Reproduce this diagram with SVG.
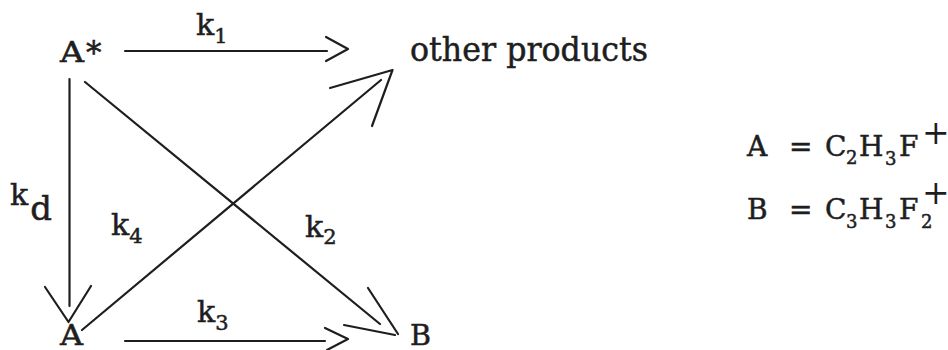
<svg xmlns="http://www.w3.org/2000/svg" width="948" height="350" viewBox="0 0 948 350">
<style>
  .bg{fill:#ffffff}
  .ln{fill:none;stroke:#1e1e1e;stroke-width:2.2;stroke-linecap:round;stroke-linejoin:round}
  .tx{font-family:"DejaVu Serif","Liberation Serif",serif;fill:#1e1e1e;stroke:#1e1e1e;stroke-width:0.5}
  .big{font-size:34px}
  .node{font-size:27px}
  .k{font-size:30px}
  .sub{font-size:21px}
  .eq{font-size:28px}
  .esub{font-size:18px}
  .plus{font-size:33px;stroke-width:0}
</style>
<rect class="bg" x="0" y="0" width="948" height="350"/>

<g id="connectors">
  <!-- k1: A* -> other products -->
  <g id="edge-k1">
    <line class="ln" x1="125" y1="51" x2="327" y2="51"/>
    <polyline class="ln" points="326,37 348,49 326,61"/>
    <text class="tx k" x="196" y="35">k<tspan class="sub" dy="8">1</tspan></text>
  </g>
  <!-- kd: A* -> A -->
  <g id="edge-kd">
    <line class="ln" x1="69.5" y1="79" x2="69.5" y2="306"/>
    <polyline class="ln" points="45,287 68.5,322 91,286"/>
    <text class="tx k" x="10" y="205">k<tspan class="big" dx="2" dy="15">d</tspan></text>
  </g>
  <!-- k2: A* -> B -->
  <g id="edge-k2">
    <line class="ln" x1="85" y1="82" x2="380" y2="324"/>
    <polyline class="ln" points="368,288 398,334"/>
    <polyline class="ln" points="344,325 395,335"/>
    <text class="tx k" x="305" y="237">k<tspan class="sub" dy="7">2</tspan></text>
  </g>
  <!-- k4: A -> other products -->
  <g id="edge-k4">
    <line class="ln" x1="82" y1="330" x2="381" y2="80"/>
    <polyline class="ln" points="330,88 392.5,70 372,126"/>
    <text class="tx k" x="111" y="235">k<tspan class="sub" dy="8">4</tspan></text>
  </g>
  <!-- k3: A -> B -->
  <g id="edge-k3">
    <line class="ln" x1="125" y1="341" x2="325" y2="341"/>
    <polyline class="ln" points="325,328 348,339 327,350"/>
    <text class="tx k" x="197" y="322">k<tspan class="sub" dy="8">3</tspan></text>
  </g>
</g>

<g id="node-Astar">
  <text class="tx node" x="60" y="62" textLength="24" lengthAdjust="spacingAndGlyphs">A</text>
  <text class="tx" x="86" y="64" style="font-size:31px">*</text>
</g>

<g id="node-other-products">
  <text class="tx big" x="410" y="61" textLength="238" lengthAdjust="spacingAndGlyphs">other products</text>
</g>

<g id="node-A">
  <text class="tx node" x="60" y="345" textLength="23" lengthAdjust="spacingAndGlyphs">A</text>
</g>

<g id="node-B">
  <text class="tx node" x="410" y="345" textLength="21" lengthAdjust="spacingAndGlyphs">B</text>
</g>

<g id="legend">
  <text class="tx eq" y="156"><tspan x="747">A</tspan><tspan x="789">=</tspan><tspan x="825">C</tspan><tspan class="esub" x="846" dy="8">2</tspan><tspan x="859" dy="-8">H</tspan><tspan class="esub" x="885" dy="9">3</tspan><tspan x="899" dy="-9">F</tspan><tspan class="plus" x="922" dy="-12">+</tspan></text>
  <text class="tx eq" y="219"><tspan x="747">B</tspan><tspan x="789">=</tspan><tspan x="825">C</tspan><tspan class="esub" x="846" dy="9">3</tspan><tspan x="859" dy="-9">H</tspan><tspan class="esub" x="885" dy="9">3</tspan><tspan x="899" dy="-9">F</tspan><tspan class="esub" x="921" dy="9">2</tspan><tspan class="plus" x="922" dy="-24">+</tspan></text>
</g>
</svg>
